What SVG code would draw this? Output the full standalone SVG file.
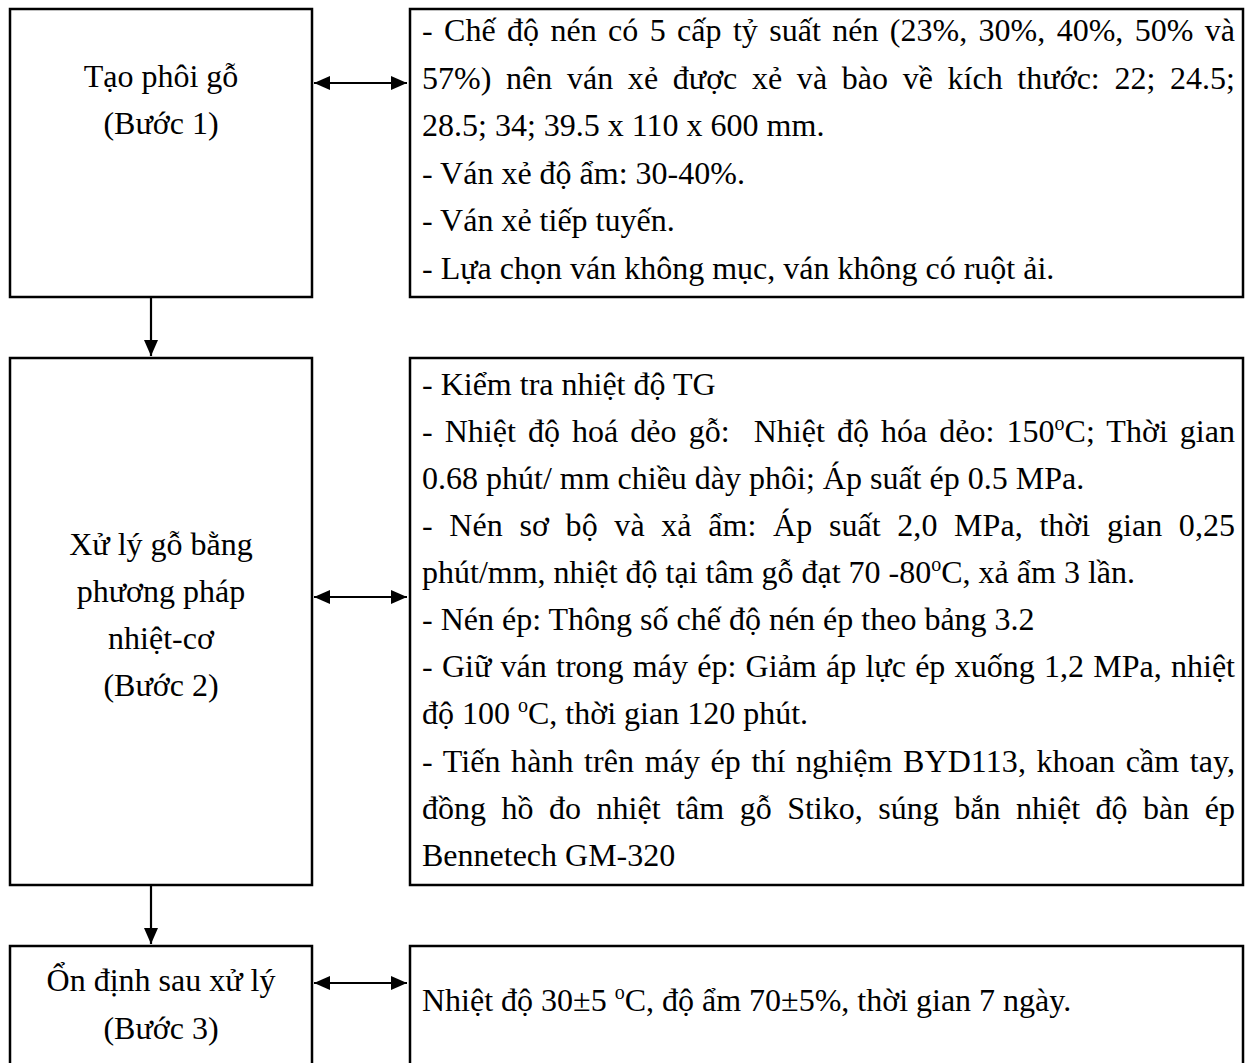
<svg xmlns="http://www.w3.org/2000/svg" width="1251" height="1063" viewBox="0 0 1251 1063">
<style>
.box{fill:#fff;stroke:#000;stroke-width:2.5}
.t{font-family:"Liberation Serif","Times New Roman",serif;font-size:32px;fill:#000}
.c{text-anchor:middle}
.conn{stroke:#000;stroke-width:2.2;fill:none}
</style>
<defs>
<marker id="ah" viewBox="0 0 16 14" refX="16" refY="7" markerWidth="16" markerHeight="14" markerUnits="userSpaceOnUse" orient="auto-start-reverse">
<path d="M0,0 L16,7 L0,14 z" fill="#000"/>
</marker>
</defs>
<rect width="1251" height="1063" fill="#fff"/>
<g id="connectors">
<line class="conn" x1="314" y1="83" x2="407" y2="83" marker-start="url(#ah)" marker-end="url(#ah)"/>
<line class="conn" x1="151" y1="297" x2="151" y2="356" marker-end="url(#ah)"/>
<line class="conn" x1="314" y1="597" x2="407" y2="597" marker-start="url(#ah)" marker-end="url(#ah)"/>
<line class="conn" x1="151" y1="886" x2="151" y2="944" marker-end="url(#ah)"/>
<line class="conn" x1="314" y1="983" x2="407" y2="983" marker-start="url(#ah)" marker-end="url(#ah)"/>
</g>
<g id="step1">
<rect class="box" x="10" y="9" width="302" height="288"/>
<text class="t c" x="161" y="87">Tạo phôi gỗ</text>
<text class="t c" x="161" y="134">(Bước 1)</text>
</g>
<g id="step1-detail">
<rect class="box" x="410" y="9" width="833" height="288"/>
<text class="t" x="422" y="41" word-spacing="3.4" textLength="813" lengthAdjust="spacing">- Chế độ nén có 5 cấp tỷ suất nén (23%, 30%, 40%, 50% và</text>
<text class="t" x="422" y="88.5" word-spacing="6.6" textLength="813" lengthAdjust="spacing">57%) nên ván xẻ được xẻ và bào về kích thước: 22; 24.5;</text>
<text class="t" x="422" y="136">28.5; 34; 39.5 x 110 x 600 mm.</text>
<text class="t" x="422" y="183.5">- Ván xẻ độ ẩm: 30-40%.</text>
<text class="t" x="422" y="231">- Ván xẻ tiếp tuyến.</text>
<text class="t" x="422" y="278.5">- Lựa chọn ván không mục, ván không có ruột ải.</text>
</g>
<g id="step2">
<rect class="box" x="10" y="358" width="302" height="527"/>
<text class="t c" x="161" y="555">Xử lý gỗ bằng</text>
<text class="t c" x="161" y="602">phương pháp</text>
<text class="t c" x="161" y="649">nhiệt-cơ</text>
<text class="t c" x="161" y="696">(Bước 2)</text>
</g>
<g id="step2-detail">
<rect class="box" x="410" y="358" width="833" height="527"/>
<text class="t" x="422" y="395">- Kiểm tra nhiệt độ TG</text>
<text class="t" x="422" y="442" xml:space="preserve" word-spacing="4" textLength="813" lengthAdjust="spacing">- Nhiệt độ hoá dẻo gỗ:  Nhiệt độ hóa dẻo: 150<tspan font-size="20" dy="-12">o</tspan><tspan dy="12">C; Thời gian</tspan></text>
<text class="t" x="422" y="489">0.68 phút/ mm chiều dày phôi; Áp suất ép 0.5 MPa.</text>
<text class="t" x="422" y="536" word-spacing="8.6" textLength="813" lengthAdjust="spacing">- Nén sơ bộ và xả ẩm: Áp suất 2,0 MPa, thời gian 0,25</text>
<text class="t" x="422" y="583">phút/mm, nhiệt độ tại tâm gỗ đạt 70 -80<tspan font-size="20" dy="-12">o</tspan><tspan dy="12">C, xả ẩm 3 lần.</tspan></text>
<text class="t" x="422" y="630">- Nén ép: Thông số chế độ nén ép theo bảng 3.2</text>
<text class="t" x="422" y="677" word-spacing="1.2" textLength="813" lengthAdjust="spacing">- Giữ ván trong máy ép: Giảm áp lực ép xuống 1,2 MPa, nhiệt</text>
<text class="t" x="422" y="724">độ 100 <tspan font-size="20" dy="-12">o</tspan><tspan dy="12">C, thời gian 120 phút.</tspan></text>
<text class="t" x="422" y="772" word-spacing="2.4" textLength="813" lengthAdjust="spacing">- Tiến hành trên máy ép thí nghiệm BYD113, khoan cầm tay,</text>
<text class="t" x="422" y="819" word-spacing="7.5" textLength="813" lengthAdjust="spacing">đồng hồ đo nhiệt tâm gỗ Stiko, súng bắn nhiệt độ bàn ép</text>
<text class="t" x="422" y="866">Bennetech GM-320</text>
</g>
<g id="step3">
<rect class="box" x="10" y="946" width="302" height="130"/>
<text class="t c" x="161" y="991">Ổn định sau xử lý</text>
<text class="t c" x="161" y="1039">(Bước 3)</text>
</g>
<g id="step3-detail">
<rect class="box" x="410" y="946" width="833" height="130"/>
<text class="t" x="422" y="1011">Nhiệt độ 30±5 <tspan font-size="20" dy="-12">o</tspan><tspan dy="12">C, độ ẩm 70±5%, thời gian 7 ngày.</tspan></text>
</g>
</svg>
